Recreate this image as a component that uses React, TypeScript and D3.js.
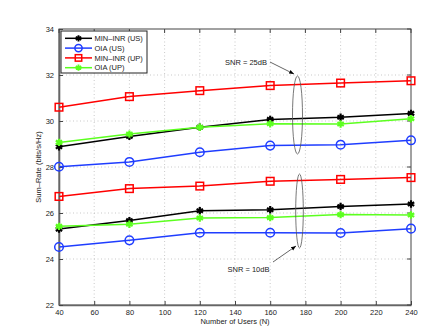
import React, { useRef, useEffect } from "react";
import * as d3 from "d3";

const users = [40, 80, 120, 160, 200, 240];
const seriesNames = ["MIN\u2013INR (US)", "OIA (US)", "MIN\u2013INR (UP)", "OIA (UP)"];
const seriesColors = ["#000000", "#1f3dff", "#ff0000", "#5cff1f"];
const seriesMarkers = ["asterisk", "circle", "square", "asterisk"];

// SNR = 25dB
const minInrUs25 = [28.88, 29.33, 29.73, 30.07, 30.16, 30.33];
const oiaUs25 = [28.01, 28.22, 28.64, 28.93, 28.97, 29.16];
const minInrUp25 = [30.6, 31.06, 31.32, 31.54, 31.65, 31.75];
const oiaUp25 = [29.07, 29.43, 29.73, 29.88, 29.87, 30.1];

// SNR = 10dB
const minInrUs10 = [25.3, 25.67, 26.1, 26.14, 26.28, 26.39];
const oiaUs10 = [24.52, 24.81, 25.14, 25.14, 25.13, 25.32];
const minInrUp10 = [26.72, 27.06, 27.17, 27.38, 27.46, 27.54];
const oiaUp10 = [25.42, 25.51, 25.78, 25.8, 25.93, 25.91];

const xTicks = [40, 60, 80, 100, 120, 140, 160, 180, 200, 220, 240];
const yTicks = [22, 24, 26, 28, 30, 32, 34];

const App = () => {
  const ref = useRef<SVGSVGElement>(null);
  const W = 424;
  const H = 328;
  const margin = { top: 29, right: 13, bottom: 23, left: 59 };

  useEffect(() => {
    const svg = d3.select(ref.current);
    svg.selectAll("*").remove();
    const font = "'Liberation Sans', Arial, sans-serif";

    const x = d3.scaleLinear().domain([40, 240]).range([margin.left, W - margin.right]);
    const y = d3.scaleLinear().domain([22, 34]).range([H - margin.bottom, margin.top]);

    svg.append("rect").attr("width", W).attr("height", H).attr("fill", "#fff");

    // grid
    const grid = svg.append("g");
    xTicks.slice(1, -1).forEach((t) =>
      grid.append("line").attr("x1", x(t)).attr("x2", x(t))
        .attr("y1", y(22)).attr("y2", y(34))
        .attr("stroke", "#bbb").attr("stroke-width", 0.8).attr("stroke-dasharray", "1,2.5")
    );
    yTicks.slice(1, -1).forEach((t) =>
      grid.append("line").attr("x1", x(40)).attr("x2", x(240))
        .attr("y1", y(t)).attr("y2", y(t))
        .attr("stroke", "#bbb").attr("stroke-width", 0.8).attr("stroke-dasharray", "1,2.5")
    );

    // axes box
    svg.append("rect").attr("x", x(40)).attr("y", y(34))
      .attr("width", x(240) - x(40)).attr("height", y(22) - y(34))
      .attr("fill", "none").attr("stroke", "#444").attr("stroke-width", 1);

    const axisX = svg.append("g").attr("transform", `translate(0,${y(22)})`)
      .call(d3.axisBottom(x).tickValues(xTicks).tickSizeInner(-4).tickSizeOuter(0).tickPadding(5));
    const axisY = svg.append("g").attr("transform", `translate(${x(40)},0)`)
      .call(d3.axisLeft(y).tickValues(yTicks).tickSizeInner(-4).tickSizeOuter(0).tickPadding(5));
    [axisX, axisY].forEach((a) => {
      a.select(".domain").attr("stroke", "#666").attr("stroke-width", 1.6);
      a.selectAll(".tick line").attr("stroke", "#444");
      a.selectAll("text").attr("font-family", font).attr("font-size", 7.5).attr("fill", "#222");
    });
    // right and top ticks
    yTicks.forEach((t) =>
      svg.append("line").attr("x1", x(240)).attr("x2", x(240) - 4)
        .attr("y1", y(t)).attr("y2", y(t)).attr("stroke", "#444")
    );
    xTicks.forEach((t) =>
      svg.append("line").attr("x1", x(t)).attr("x2", x(t))
        .attr("y1", y(34)).attr("y2", y(34) + 4).attr("stroke", "#444")
    );

    // labels
    svg.append("text").attr("x", (x(40) + x(240)) / 2).attr("y", 324)
      .attr("text-anchor", "middle").attr("font-family", font).attr("font-size", 7.5)
      .attr("fill", "#222").text("Number of Users (N)");
    svg.append("text")
      .attr("transform", `translate(41,${(y(22) + y(34)) / 2}) rotate(-90)`)
      .attr("text-anchor", "middle").attr("font-family", font).attr("font-size", 7.5)
      .attr("fill", "#222").text("Sum\u2013Rate (bits/s/Hz)");

    const drawMarker = (g: any, kind: string, color: string, cx: number, cy: number, s = 1) => {
      if (kind === "circle") {
        g.append("circle").attr("cx", cx).attr("cy", cy).attr("r", 4.3 * s)
          .attr("fill", "none").attr("stroke", color).attr("stroke-width", 1.5);
      } else if (kind === "square") {
        g.append("rect").attr("x", cx - 3.8 * s).attr("y", cy - 3.8 * s)
          .attr("width", 7.6 * s).attr("height", 7.6 * s)
          .attr("fill", "none").attr("stroke", color).attr("stroke-width", 1.5);
      } else {
        g.append("path").attr("transform", `translate(${cx},${cy})`)
          .attr("d", d3.symbol(d3.symbolAsterisk, 38 * s * s)())
          .attr("fill", "none").attr("stroke", color).attr("stroke-width", 2.2 * s);
      }
    };

    const line = d3.line<number>().x((_, i) => x(users[i])).y((d) => y(d));
    const groups = [
      [minInrUs25, oiaUs25, minInrUp25, oiaUp25],
      [minInrUs10, oiaUs10, minInrUp10, oiaUp10],
    ];
    const order = [2, 0, 3, 1];
    groups.forEach((grp) => {
      order.forEach((k) => {
        const vals = grp[k];
        const g = svg.append("g");
        g.append("path").attr("d", line(vals)).attr("fill", "none")
          .attr("stroke", seriesColors[k]).attr("stroke-width", 1.5);
        vals.forEach((v, i) => drawMarker(g, seriesMarkers[k], seriesColors[k], x(users[i]), y(v)));
      });
    });

    // annotations
    svg.append("defs").append("marker").attr("id", "arr").attr("viewBox", "0 0 10 10")
      .attr("refX", 10).attr("refY", 5).attr("markerWidth", 7).attr("markerHeight", 7)
      .attr("orient", "auto-start-reverse")
      .append("path").attr("d", "M0,1 L10,5 L0,9 z").attr("fill", "#000");

    svg.append("ellipse").attr("cx", 297.5).attr("cy", 115).attr("rx", 5).attr("ry", 39)
      .attr("fill", "none").attr("stroke", "#555").attr("stroke-width", 0.8);
    svg.append("ellipse").attr("cx", 299.5).attr("cy", 211).attr("rx", 3.8).attr("ry", 37)
      .attr("fill", "none").attr("stroke", "#555").attr("stroke-width", 0.8);

    svg.append("text").attr("x", 225).attr("y", 65).attr("font-family", font)
      .attr("font-size", 7.5).attr("fill", "#222").text("SNR = 25dB");
    svg.append("line").attr("x1", 270).attr("y1", 62).attr("x2", 294).attr("y2", 74)
      .attr("stroke", "#222").attr("stroke-width", 0.7).attr("marker-end", "url(#arr)");

    svg.append("text").attr("x", 227.5).attr("y", 272).attr("font-family", font)
      .attr("font-size", 7.5).attr("fill", "#222").text("SNR = 10dB");
    svg.append("line").attr("x1", 273).attr("y1", 262).attr("x2", 296).attr("y2", 246)
      .attr("stroke", "#222").attr("stroke-width", 0.7).attr("marker-end", "url(#arr)");

    // legend
    const leg = svg.append("g");
    leg.append("rect").attr("x", 61).attr("y", 31).attr("width", 86).attr("height", 42)
      .attr("fill", "#fff").attr("stroke", "#222").attr("stroke-width", 1);
    seriesNames.forEach((name, k) => {
      const ly = 38.3 + k * 9.8;
      leg.append("line").attr("x1", 65).attr("x2", 92).attr("y1", ly).attr("y2", ly)
        .attr("stroke", seriesColors[k]).attr("stroke-width", 1.5);
      drawMarker(leg, seriesMarkers[k], seriesColors[k], 78.5, ly, 0.85);
      leg.append("text").attr("x", 94.5).attr("y", ly + 2.6).attr("font-family", font)
        .attr("font-size", 7.5).attr("fill", "#222").text(name);
    });
  }, []);

  return (
    <svg
      ref={ref}
      width={W}
      height={H}
      style={{ position: "absolute", left: 0, top: 0 }}
    ></svg>
  );
};

export default App;
